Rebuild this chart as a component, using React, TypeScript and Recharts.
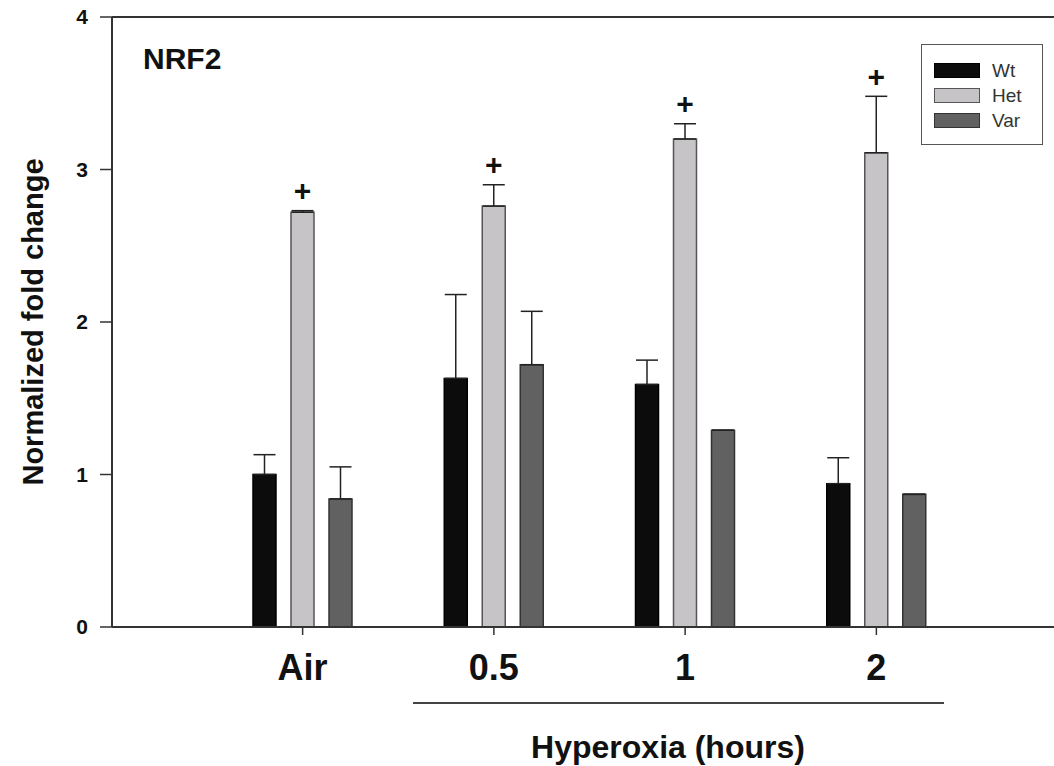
import {
  ComposedChart,
  Bar,
  XAxis,
  YAxis,
  ErrorBar,
  LabelList,
  ReferenceLine,
  Legend,
} from "recharts";

const categories = ["Air", "0.5", "1", "2"];
const wtValues = [1.0, 1.63, 1.59, 0.94];
const wtErrors = [0.13, 0.55, 0.16, 0.17];
const hetValues = [2.72, 2.76, 3.2, 3.11];
const hetErrors = [0.01, 0.14, 0.1, 0.37];
const varValues = [0.84, 1.72, 1.29, 0.87];
const varErrors = [0.21, 0.35, 0, 0];
const hetSignificant = [true, true, true, true];
const yTicks = [0, 1, 2, 3, 4];

const FONT = '"Liberation Sans", Arial, Helvetica, sans-serif';

const series = [
  { key: "wt", name: "Wt", fill: "#0c0c0c", stroke: "#000000" },
  { key: "het", name: "Het", fill: "#c6c4c6", stroke: "#555555" },
  { key: "var", name: "Var", fill: "#616161", stroke: "#333333" },
];

const data = categories.map((name, i) => ({
  name,
  wt: wtValues[i],
  wtErr: [0, wtErrors[i]],
  het: hetValues[i],
  hetErr: [0, hetErrors[i]],
  var: varValues[i],
  varErr: [0, varErrors[i]],
}));

const PlusMark = (props: any) => {
  const { x, y, width, height, value, index } = props;
  if (!hetSignificant[index] || !value) return null;
  const perUnit = height / value;
  const errTop = y - hetErrors[index] * perUnit;
  return (
    <text
      x={x + width / 2}
      y={errTop - 20}
      textAnchor="middle"
      dominantBaseline="central"
      fontFamily={FONT}
      fontWeight="bold"
      fontSize={30}
      fill="#111"
    >
      +
    </text>
  );
};

const LegendBox = () => (
  <div
    style={{
      width: 122,
      height: 101,
      boxSizing: "border-box",
      border: "1.5px solid #555",
      background: "#fff",
      padding: "13px 0 0 12px",
      fontFamily: FONT,
      fontSize: 19,
      color: "#333",
    }}
  >
    {series.map((s) => (
      <div key={s.key} style={{ display: "flex", alignItems: "center", height: 25 }}>
        <span
          style={{
            display: "inline-block",
            width: 46,
            height: 15,
            boxSizing: "border-box",
            background: s.fill,
            border: `1.5px solid ${s.stroke}`,
            marginRight: 12,
          }}
        />
        {s.name}
      </div>
    ))}
  </div>
);

const YTitle = (props: any) => {
  const { viewBox } = props;
  const cx = viewBox.x + 33;
  const cy = viewBox.y + viewBox.height / 2;
  return (
    <text
      x={cx}
      y={cy}
      transform={`rotate(-90 ${cx} ${cy})`}
      textAnchor="middle"
      dominantBaseline="central"
      fontFamily={FONT}
      fontWeight="bold"
      fontSize={29}
      fill="#111"
    >
      Normalized fold change
    </text>
  );
};

const XTitle = (props: any) => {
  const { viewBox } = props;
  const x0 = viewBox.x;
  const y0 = viewBox.y;
  return (
    <g>
      <line x1={x0 + 301} x2={x0 + 832} y1={y0 + 76} y2={y0 + 76} stroke="#444" strokeWidth={2} />
      <text
        x={x0 + 556}
        y={y0 + 131}
        textAnchor="middle"
        fontFamily={FONT}
        fontWeight="bold"
        fontSize={32}
        fill="#111"
      >
        Hyperoxia (hours)
      </text>
    </g>
  );
};

export default function App() {
  return (
    <div style={{ position: "absolute", left: 0, top: 0, background: "#fff" }}>
      <ComposedChart
        width={1054}
        height={766}
        data={data}
        margin={{ top: 17, right: 0, bottom: 0, left: 0 }}
        barSize={23}
        barGap={15}
      >
        <XAxis
          dataKey="name"
          padding={{ left: 95, right: 82 }}
          height={139}
          tickSize={8}
          tickMargin={19}
          axisLine={{ stroke: "#333", strokeWidth: 2 }}
          tickLine={{ stroke: "#333", strokeWidth: 1.5 }}
          tick={{ fill: "#111", fontSize: 36, fontWeight: "bold", fontFamily: FONT }}
          label={<XTitle />}
        />
        <YAxis
          domain={[0, 4]}
          ticks={yTicks}
          width={112}
          tickSize={12}
          tickMargin={12}
          axisLine={{ stroke: "#333", strokeWidth: 2 }}
          tickLine={{ stroke: "#333", strokeWidth: 1.5 }}
          tick={{ fill: "#111", fontSize: 21, fontWeight: "bold", fontFamily: FONT }}
          label={<YTitle />}
        />
        <ReferenceLine y={4} stroke="#333" strokeWidth={2} />
        <Legend
          layout="horizontal"
          verticalAlign="middle"
          align="center"
          content={<LegendBox />}
          wrapperStyle={{ left: 921, top: 44, width: 122, height: 101 }}
        />
        {series.map((s) => (
          <Bar
            key={s.key}
            dataKey={s.key}
            name={s.name}
            fill={s.fill}
            stroke={s.stroke}
            strokeWidth={1.5}
            isAnimationActive={false}
          >
            <ErrorBar
              dataKey={`${s.key}Err`}
              direction="y"
              width={11}
              stroke="#222"
              strokeWidth={1.5}
            />
            {s.key === "het" && <LabelList dataKey="het" content={<PlusMark />} />}
          </Bar>
        ))}
        <text x={143} y={69} fontFamily={FONT} fontWeight="bold" fontSize={30} fill="#111">
          NRF2
        </text>
      </ComposedChart>
    </div>
  );
}
